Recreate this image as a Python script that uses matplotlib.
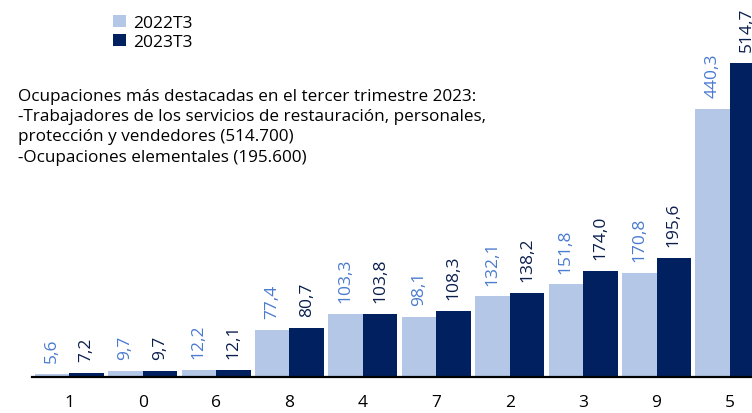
import matplotlib.pyplot as plt
import numpy as np

ocupaciones = ['1', '0', '6', '8', '4', '7', '2', '3', '9', '5']
t2022 = [5.6, 9.7, 12.2, 77.4, 103.3, 98.1, 132.1, 151.8, 170.8, 440.3]
t2023 = [7.2, 9.7, 12.1, 80.7, 103.8, 108.3, 138.2, 174.0, 195.6, 514.7]
series = ['2022T3', '2023T3']

texto = ("Ocupaciones más destacadas en el tercer trimestre 2023:\n"
         "-Trabajadores de los servicios de restauración, personales,\n"
         "protección y vendedores (514.700)\n"
         "-Ocupaciones elementales (195.600)")

plt.rcParams['font.family'] = ['Open Sans', 'DejaVu Sans']

CLARO = '#b4c7e7'
OSCURO = '#002060'
ETQ_CLARO = '#4a7bd0'
ETQ_OSCURO = '#0b1f4e'

fig = plt.figure(figsize=(7.52, 4.14), dpi=100)
ax = fig.add_axes([32/752, 36/414, 1 - 32/752, 1 - 36/414])

x = np.arange(len(ocupaciones))
w = 0.47
b1 = ax.bar(x - w/2, t2022, w, color=CLARO, label=series[0])
b2 = ax.bar(x + w/2, t2023, w, color=OSCURO, label=series[1])

for barras, col in ((b1, ETQ_CLARO), (b2, ETQ_OSCURO)):
    for r in barras:
        v = r.get_height()
        ax.annotate(f'{v:.1f}'.replace('.', ','),
                    (r.get_x() + r.get_width()/2, v),
                    xytext=(0, 8.5), textcoords='offset points',
                    rotation=90, ha='center', va='bottom',
                    fontsize=12.5, color=col, annotation_clip=False)

ax.set_xlim(-0.507, 9.3)
ax.set_ylim(0, 620)
ax.set_xticks(x)
ax.set_xticklabels(ocupaciones, fontsize=12.5)
ax.tick_params(axis='x', length=0, pad=12)
ax.set_yticks([])
for s in ['top', 'right', 'left']:
    ax.spines[s].set_visible(False)
ax.spines['bottom'].set_linewidth(1.6)

fig.legend(loc='upper left', bbox_to_anchor=(104/752, 1 - 7/414),
           frameon=False, fontsize=12.5, handlelength=0.75, handleheight=0.75,
           handletextpad=0.4, labelspacing=0.15, borderpad=0)

fig.text(18/752, 1 - 89/414, texto, fontsize=12.3, va='top', ha='left',
         linespacing=1.35)

fig.savefig('out.png', dpi=100)
